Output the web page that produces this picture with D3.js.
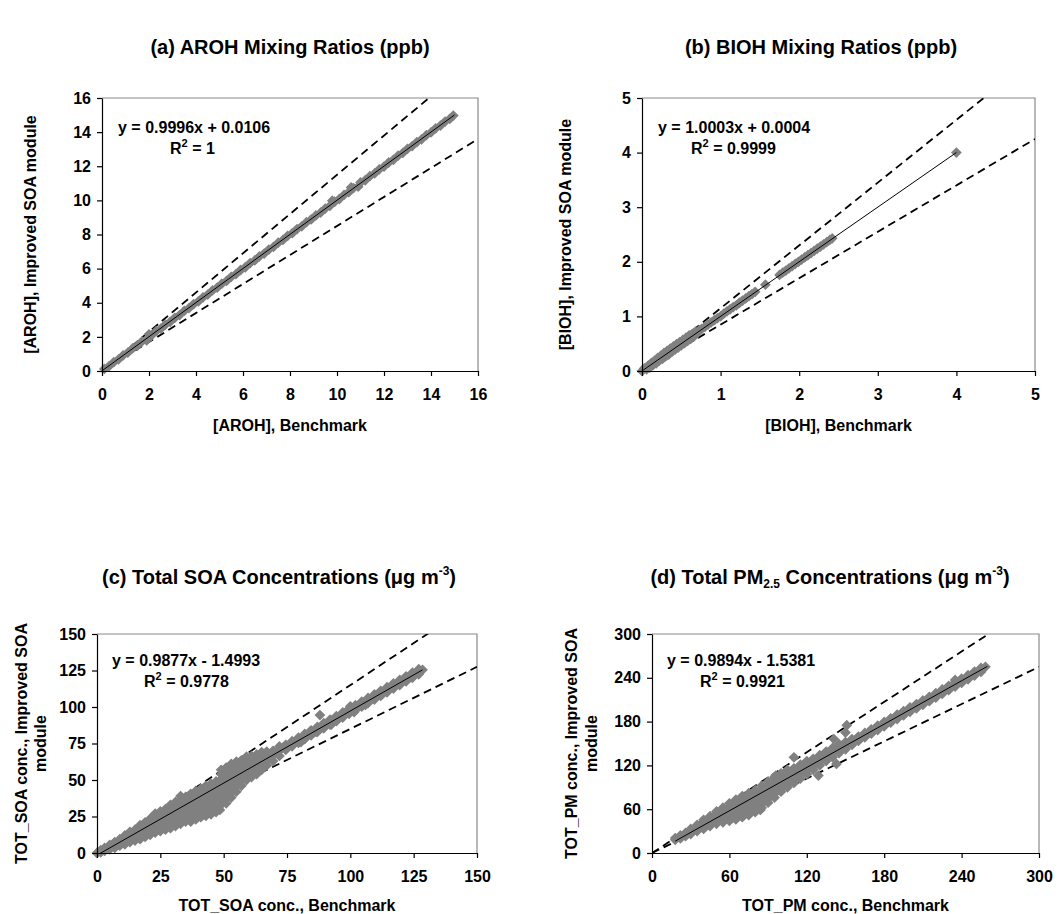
<!DOCTYPE html>
<html>
<head>
<meta charset="utf-8">
<script src="https://cdn.jsdelivr.net/npm/d3@7"></script>
<style>
  html, body { margin: 0; padding: 0; background: #fff; }
  svg { display: block; font-family: "Liberation Sans", Arial, sans-serif; font-weight: bold; }
</style>
</head>
<body>
<svg id="chart" width="1059" height="914"></svg>
<script>
// ---- Tick values for each panel ----
const arohTicks = [0, 2, 4, 6, 8, 10, 12, 14, 16];
const biohTicks = [0, 1, 2, 3, 4, 5];
const soaTicks = [0, 25, 50, 75, 100, 125, 150];
const pmTicks = [0, 60, 120, 180, 240, 300];

// ---- Regression results: [slope, intercept, R²] ----
const arohFit = [0.9996, 0.0106, "1"];
const biohFit = [1.0003, 0.0004, "0.9999"];
const soaFit = [0.9877, -1.4993, "0.9778"];
const pmFit = [0.9894, -1.5381, "0.9921"];

// ±15% agreement envelope
const envelope = [1.15, 0.85];

// ---- Paired values: [Benchmark, Improved SOA module] ----
const arohPoints = [
  [0.1,0.12],[0.3,0.28],[0.5,0.52],[0.7,0.68],[0.9,0.92],[1.1,1.08],[1.3,1.32],[1.5,1.48],[1.7,1.73],
  [1.9,1.8],[2.0,2.15],[2.1,2.08],[2.3,2.33],[2.5,2.48],[2.7,2.72],[2.9,2.88],[3.1,3.12],[3.3,3.28],
  [3.5,3.52],[3.7,3.68],[3.9,3.92],[4.1,4.08],[4.3,4.32],[4.5,4.48],[4.7,4.72],[4.9,4.88],[5.1,5.12],
  [5.3,5.28],[5.5,5.52],[5.7,5.68],[5.9,5.92],[6.1,6.08],[6.3,6.32],[6.5,6.48],[6.7,6.72],[6.9,6.88],
  [7.1,7.12],[7.3,7.28],[7.5,7.52],[7.7,7.68],[7.9,7.92],[8.1,8.08],[8.3,8.32],[8.5,8.48],[8.7,8.72],
  [8.9,8.88],[9.1,9.12],[9.3,9.28],[9.5,9.52],[9.7,9.68],[9.8,9.98],[9.9,9.92],[10.1,10.08],
  [10.3,10.32],[10.5,10.48],[10.6,10.76],[10.7,10.72],[10.9,10.8],[11.0,11.05],[11.2,11.18],
  [11.4,11.42],[11.6,11.58],[11.8,11.82],[12.0,11.98],[12.2,12.22],[12.4,12.38],[12.6,12.62],
  [12.8,12.78],[13.0,13.02],[13.2,13.18],[13.4,13.42],[13.6,13.58],[13.8,13.82],[14.0,13.98],
  [14.2,14.22],[14.4,14.38],[14.6,14.62],[14.8,14.78],[14.95,14.97]
];

const biohPoints = [
  [0,0],[0.03,0.05],[0.06,0.03],[0.08,0.1],[0.1,0.06],[0.12,0.15],[0.14,0.11],[0.16,0.19],[0.18,0.14],
  [0.2,0.24],[0.22,0.19],[0.24,0.28],[0.26,0.22],[0.28,0.33],[0.3,0.27],[0.32,0.37],[0.34,0.3],
  [0.36,0.41],[0.38,0.35],[0.4,0.45],[0.42,0.39],[0.44,0.49],[0.46,0.43],[0.48,0.53],[0.5,0.47],
  [0.52,0.57],[0.54,0.51],[0.56,0.61],[0.58,0.55],[0.6,0.65],[0.62,0.59],[0.64,0.68],[0.66,0.63],
  [0.68,0.72],[0.7,0.69],[0.73,0.75],[0.76,0.77],[0.8,0.81],[0.84,0.85],[0.88,0.89],[0.92,0.93],
  [0.96,0.97],[1.0,1.0],[1.04,1.05],[1.08,1.09],[1.12,1.13],[1.16,1.17],[1.2,1.2],[1.24,1.25],
  [1.28,1.29],[1.32,1.33],[1.36,1.37],[1.4,1.41],[1.44,1.45],[1.57,1.58],[1.75,1.76],[1.79,1.8],
  [1.83,1.84],[1.87,1.88],[1.91,1.92],[1.95,1.96],[1.99,2.0],[2.03,2.04],[2.07,2.08],[2.11,2.12],
  [2.15,2.16],[2.19,2.2],[2.23,2.24],[2.27,2.28],[2.31,2.32],[2.35,2.36],[2.39,2.4],[2.42,2.43],
  [4.0,4.0]
];

// columns of [Benchmark, [Improved values...]]
const soaColumns = [
  [0,[0]],[1.5,[0.5,2]],[3,[1.5,3.5]],[5,[2.5,5.5]],[7,[3.5,7.5]],[9,[5,9.5]],
  [11,[6,9,12]],[13,[7.5,11,14.5]],[15,[8.5,12,16]],[17,[9.5,13,16.5,19]],
  [19,[11,14.5,18,21]],[21,[12.5,16,19.5,23.5]],[23,[14,17.5,21,24.5,27]],
  [25,[15,18.5,22,25.5,28.5]],[27,[16,19.5,23,26.5,30]],[29,[17,20.5,24,27.5,31,33]],
  [31,[18.5,22,25.5,29,32.5,35]],[33,[20,23.5,27,30.5,34,37,39]],[35,[21.5,25,28.5,32,35.5,38.5]],
  [37,[21.5,25,28.5,32,35.5,39,40.5]],[39,[23,26.5,30,33.5,37,40.5,42.5]],
  [41,[24.5,28,31.5,35,38.5,42,44]],[43,[25.5,29,32.5,36,39.5,43,46]],
  [45,[26.5,30,33.5,37,40.5,44,47.5]],[47,[28,31.5,35,38.5,42,45.5,49]],[48.5,[29.5]],
  [49,[33,36.5,40,43.5,47,50.5,54,57]],[51,[34,37.5,41,44.5,48,51.5,55,58.5]],
  [53,[38,41.5,45,48.5,52,55.5,59,61]],[55,[42,45.5,49,52.5,56,59.5,62.5]],
  [57,[46,49.5,53,56.5,60,63.5]],[59,[50,53,56.5,60,63.5,66]],[61,[52,55.5,59,62.5,66.5]],
  [63,[54,57.5,61,64.5,67.5]],[65,[57,60.5,64,67,69]],[67,[60,63.5,67,69.5]],
  [69.5,[63,66.5,70]],[72,[66.5,70,73]],
  [74.5,[70.6,74.1]],[77,[73.1,76.6]],[79.5,[75.5,79]],[80.5,[76]],[82,[78,81.5]],
  [84.5,[80.5,84]],[86.5,[83]],[87,[82.9,86.4]],[88,[94.5]],[89.5,[85.4,88.9]],
  [92,[87.9,91.4]],[92.5,[88]],[94.5,[90.3,93.8]],[97,[92.8,96.3]],[99.5,[95.3,98.8]],
  [100,[100.5]],[101.5,[96.5]],[102,[97.7,101.2]],[104.5,[100.2,103.7]],[106,[101.5]],
  [107,[102.7,106.2]],[109.5,[105.1,108.6]],[112,[107.6,111.1]],[114.5,[110.1,113.6]],
  [117,[112.6,116.1]],[119.5,[115,118.5]],[122,[117.5,121]],[124.5,[120,123.5]],
  [127,[122.4,125.9]],[128.5,[125.5]]
];

const pmColumns = [
  [18,[18,20.5]],[22,[20,24]],[26,[23,27.5]],[30,[26,29.5,33]],[35,[30,34,38.5]],
  [40,[33,37.5,42,45.5]],[45,[37,41.5,46,50.5]],[50,[40,44.5,49,53.5,57]],
  [55,[42,47,52,57,62]],[60,[44,49,54,59,64,68]],[65,[46,51,56,61,66,71,73]],
  [70,[49,54,59,64,69,74,78]],[75,[52,57,62,67,72,77,82]],[80,[56,61,66,71,76,81,86]],
  [84,[59]],[85,[62,67,72,77,82,87,92]],[90,[69,74,79,84,89,94,98]],
  [95,[76,81,86,91,96,101,104]],[96,[106]],[100,[84,89,94,99,104,109]],
  [105,[90,95,100,105,110,114]],[110,[96,101,106,111,116,131]],[115,[102,107,112,117,121]],
  [120,[108,113,118,123,126]],[125,[114,119,124,129]],[129,[106]],[130,[120,125,130,134]],
  [135,[126,131,136,139]],[140,[131,136,141,144]],[141,[156]],[143,[122]],
  [145,[137,142,147,149]],[150,[142,147,152,165]],[151,[175]],[155,[148,152,156]],
  [160,[153.5,159.5]],[165,[158.5,164.5]],[170,[163.5,169.5]],[175,[168.5,174.5]],
  [180,[173.5,179.5]],[185,[178.5,184.5]],[190,[183.5,189.5]],[195,[188.5,194.5]],
  [200,[193.5,199.5]],[205,[198,204]],[210,[203,209]],[215,[208,214]],[220,[213,219]],
  [225,[218,224]],[230,[223,229]],[235,[228,234,237]],[240,[233,239]],[245,[238,243.5]],
  [250,[243,248.5]],[255,[248,253.5]],[258.5,[255]]
];

const soaPoints = soaColumns.flatMap(([bx, ys]) => ys.map(v => [bx, v]));
const pmPoints = pmColumns.flatMap(([bx, ys]) => ys.map(v => [bx, v]));

// ---- Panel layout ----
const panels = [
  { key: "a", points: arohPoints, ticks: arohTicks, fit: arohFit, trend: [0, 15],
    left: 102, right: 478, top: 98, bottom: 371,
    title: [["(a) AROH Mixing Ratios (ppb)"]], titleX: 290, titleY: 54,
    xTitle: "[AROH], Benchmark", xTitleY: 431,
    yTitle: ["[AROH], Improved SOA module"], yTitleX: [36],
    eqX: 118, eqY: 133, r2X: 170, r2Y: 154 },
  { key: "b", points: biohPoints, ticks: biohTicks, fit: biohFit, trend: [0, 4],
    left: 642, right: 1035, top: 98, bottom: 371,
    title: [["(b) BIOH Mixing Ratios (ppb)"]], titleX: 821, titleY: 54,
    xTitle: "[BIOH], Benchmark", xTitleY: 431,
    yTitle: ["[BIOH], Improved SOA module"], yTitleX: [571],
    eqX: 658, eqY: 133, r2X: 691, r2Y: 154 },
  { key: "c", points: soaPoints, ticks: soaTicks, fit: soaFit, trend: [0, 128.5],
    left: 97, right: 477, top: 634, bottom: 853,
    title: [["(c) Total SOA Concentrations (μg m"], ["-3", "sup"], [")"]], titleX: 279, titleY: 584,
    xTitle: "TOT_SOA conc., Benchmark", xTitleY: 911,
    yTitle: ["TOT_SOA conc., Improved SOA", "module"], yTitleX: [27, 46],
    eqX: 112, eqY: 666, r2X: 144, r2Y: 687 },
  { key: "d", points: pmPoints, ticks: pmTicks, fit: pmFit, trend: [18, 260],
    left: 652, right: 1039, top: 634, bottom: 853,
    title: [["(d) Total PM"], ["2.5", "sub"], [" Concentrations (μg m"], ["-3", "sup"], [")"]],
    titleX: 830, titleY: 584,
    xTitle: "TOT_PM conc., Benchmark", xTitleY: 911,
    yTitle: ["TOT_PM conc., Improved SOA", "module"], yTitleX: [577, 597],
    eqX: 667, eqY: 666, r2X: 700, r2Y: 687 }
];

const svg = d3.select("#chart");
const defs = svg.append("defs");
const marker = d3.symbol().type(d3.symbolSquare).size(58);
const fmt = v => (v < 0 ? "- " : "+ ") + Math.abs(v).toFixed(4);

panels.forEach(p => {
  const ticks = p.ticks;
  const max = ticks[ticks.length - 1];
  const x = d3.scaleLinear().domain([0, max]).range([p.left, p.right]);
  const y = d3.scaleLinear().domain([0, max]).range([p.bottom, p.top]);
  const g = svg.append("g");
  const clipId = "plot-" + p.key;
  defs.append("clipPath").attr("id", clipId).append("rect")
    .attr("x", p.left).attr("y", p.top)
    .attr("width", p.right - p.left).attr("height", p.bottom - p.top);

  // plot-area border (top and right)
  g.append("path")
    .attr("d", `M${p.left},${p.top}H${p.right}V${p.bottom}`)
    .attr("fill", "none").attr("stroke", "#8a8a8a").attr("stroke-width", 1.2);

  // ±15% dashed reference lines
  envelope.forEach(k => {
    g.append("line").attr("clip-path", `url(#${clipId})`)
      .attr("x1", x(0)).attr("y1", y(0))
      .attr("x2", x(max)).attr("y2", y(max * k))
      .attr("stroke", "#000").attr("stroke-width", 1.8)
      .attr("stroke-dasharray", "8,5");
  });

  // scatter
  g.append("g").selectAll("path").data(p.points).join("path")
    .attr("d", marker)
    .attr("transform", d => `translate(${x(d[0])},${y(d[1])}) rotate(45)`)
    .attr("fill", "#808080");

  // linear trend line
  const [m, c] = p.fit;
  g.append("line").attr("clip-path", `url(#${clipId})`)
    .attr("x1", x(p.trend[0])).attr("y1", y(m * p.trend[0] + c))
    .attr("x2", x(p.trend[1])).attr("y2", y(m * p.trend[1] + c))
    .attr("stroke", "#000").attr("stroke-width", 1);

  // axes
  const yAxis = g.append("g").attr("transform", `translate(${p.left},0)`)
    .call(d3.axisLeft(y).tickValues(ticks).tickSize(5).tickSizeOuter(0).tickPadding(6).tickFormat(d3.format("d")));
  const xAxis = g.append("g").attr("transform", `translate(0,${p.bottom})`)
    .call(d3.axisBottom(x).tickValues(ticks).tickSize(5).tickSizeOuter(0).tickPadding(13).tickFormat(d3.format("d")));
  [yAxis, xAxis].forEach(a => {
    a.attr("font-family", null).attr("font-size", null);
    a.selectAll("text").attr("font-size", 16).attr("fill", "#000");
    a.selectAll("line, path").attr("stroke", "#000").attr("stroke-width", 1.2);
  });

  // panel title, with raised / lowered runs
  const t = g.append("text").attr("x", p.titleX).attr("y", p.titleY)
    .attr("text-anchor", "middle").attr("font-size", 20);
  let back = 0;
  p.title.forEach(([s, kind]) => {
    const span = t.append("tspan").text(s);
    if (kind === "sup") { span.attr("font-size", 12).attr("dy", back - 9); back = 9; }
    else if (kind === "sub") { span.attr("font-size", 12).attr("dy", back + 4); back = -4; }
    else { if (back) span.attr("dy", back); back = 0; }
  });

  // axis titles
  g.append("text").attr("x", (p.left + p.right) / 2).attr("y", p.xTitleY)
    .attr("text-anchor", "middle").attr("font-size", 16).text(p.xTitle);
  p.yTitle.forEach((s, i) => {
    g.append("text")
      .attr("transform", `translate(${p.yTitleX[i]},${(p.top + p.bottom) / 2}) rotate(-90)`)
      .attr("text-anchor", "middle").attr("font-size", 16).text(s);
  });

  // regression equation
  g.append("text").attr("x", p.eqX).attr("y", p.eqY).attr("font-size", 16)
    .text(`y = ${m.toFixed(4)}x ${fmt(c)}`);
  const r = g.append("text").attr("x", p.r2X).attr("y", p.r2Y).attr("font-size", 16);
  r.append("tspan").text("R");
  r.append("tspan").attr("font-size", 11).attr("dy", -7).text("2");
  r.append("tspan").attr("dy", 7).text(" = " + p.fit[2]);
});
</script>
</body>
</html>
